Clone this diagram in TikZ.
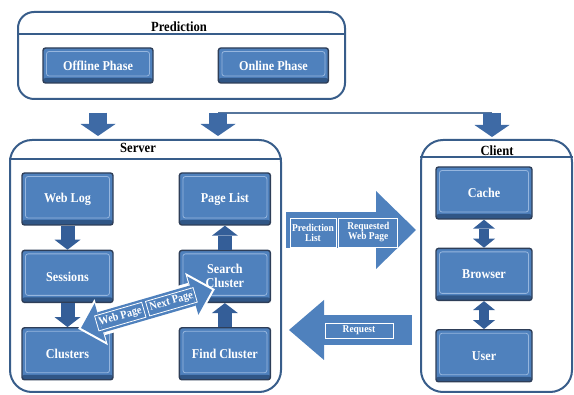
\documentclass[tikz,border=0pt]{standalone}
\usepackage{fontspec}
\setmainfont{Liberation Serif}
\newfontfamily\narrowserif[FakeStretch=0.9]{Liberation Serif}
\usepackage{tikz}
\usetikzlibrary{positioning,calc,arrows.meta}
\definecolor{boxblue}{RGB}{79,129,189}
\definecolor{boxedge}{RGB}{46,62,88}
\definecolor{boxlight}{RGB}{150,182,222}
\definecolor{boxdark}{RGB}{48,86,134}
\definecolor{framecol}{RGB}{56,93,138}
\definecolor{arrowblue}{RGB}{52,94,152}
\definecolor{dropblue}{RGB}{62,106,165}

\begin{document}
\begin{tikzpicture}[
  x=1pt, y=-1pt,
  node distance=24pt,
  frame/.style={rectangle, draw=framecol, line width=2pt, rounded corners=22pt, inner sep=0pt},
  title/.style={inner sep=1pt, font=\narrowserif\bfseries\fontsize{14}{15}\selectfont},
  box/.style={rectangle, fill=boxblue, draw=boxedge, line width=1.4pt, rounded corners=2.5pt,
    minimum width=91pt, minimum height=52pt, inner sep=2pt, align=center, text=white,
    font=\narrowserif\bfseries\fontsize{13.5}{14}\selectfont,
    path picture={
      \fill[boxdark] ([yshift=5pt]path picture bounding box.south west) rectangle (path picture bounding box.south east);
      \draw[boxlight, line width=0.8pt] ([shift={(3.5pt,-3.5pt)}]path picture bounding box.north west) rectangle ([shift={(-3.5pt,7pt)}]path picture bounding box.south east);}},
  tag/.style={draw=white, line width=0.8pt, text=white, inner sep=1.5pt, align=center, font=\narrowserif\bfseries\fontsize{10.5}{10}\selectfont},
  slanttag/.style={tag, sloped, inner sep=2.5pt, font=\narrowserif\bfseries\fontsize{11.5}{12}\selectfont},
  flow/.style={arrowblue, line width=14pt, -{Triangle[width=26pt, length=10pt, line width=0pt]}},
  twoway/.style={arrowblue, line width=10pt, {Triangle[width=22pt, length=9pt, line width=0pt]}-{Triangle[width=22pt, length=9pt, line width=0pt]}},
  drop/.style={dropblue, line width=18pt, -{Triangle[width=35pt, length=12pt, line width=0pt]}},
  link/.style={framecol!85, line width=1.6pt},
  send/.style={boxblue, line width=36pt, -{Triangle[width=78pt, length=40pt, line width=0pt]}},
  back/.style={boxblue, line width=30pt, {Triangle[width=60pt, length=35pt, line width=0pt]}-}
]
\useasboundingbox (0,0) rectangle (574,395);

\node[frame, minimum width=327pt, minimum height=87pt, rounded corners=16pt] (prediction) at (181.5,55.5) {};
\node[frame, minimum width=271pt, minimum height=252pt] (server) at (145.5,266) {};
\node[frame, minimum width=151pt, minimum height=252pt] (client) at (496.5,266) {};
\draw[framecol, line width=1.2pt] ($(prediction.north west)+(0,23)$) -- ($(prediction.north east)+(0,23)$);
\draw[framecol, line width=1.2pt] ($(server.north west)+(0,20)$) -- ($(server.north east)+(0,20)$);
\draw[framecol, line width=1.2pt] ($(client.north west)+(0,18)$) -- ($(client.north east)+(0,18)$);
\node[title] (predtitle) at (179,27) {Prediction};
\node[title] (servertitle) at (138,148) {Server};
\node[title] (clienttitle) at (497,150.5) {Client};

\node[box, minimum width=110pt, minimum height=35pt] (offline) at (98,65.5) {Offline Phase};
\node[box, minimum width=110pt, minimum height=35pt, right=64pt of offline] (online) {Online Phase};

\node[box] (weblog) at (67.5,199) {Web Log};
\node[box, below=of weblog] (sessions) {Sessions};
\node[box, below=of sessions] (clusters) {Clusters};
\node[box, right=65pt of weblog] (pagelist) {Page List};
\node[box, below=of pagelist] (search) {Search\\Cluster};
\node[box, below=of search] (findcl) {Find Cluster};

\node[box, minimum width=96pt] (cache) at (484,193) {Cache};
\node[box, minimum width=96pt, below=28pt of cache] (browser) {Browser};
\node[box, minimum width=96pt, below=28pt of browser] (user) {User};

\coordinate (split) at (218,113);
\coordinate (tocl) at (492,113);
\draw[link] (split) -- (tocl);
\draw[drop, shorten <=29pt, shorten >=3pt] (offline.south) -- (offline.south |- server.north);
\draw[drop, shorten >=3pt] (split) -- (split |- server.north);
\draw[drop, shorten >=2pt] (tocl) -- (tocl |- client.north);

\draw[flow] (weblog) -- (sessions);
\draw[flow] (sessions) -- (clusters);
\draw[flow] (findcl) -- (search);
\draw[flow] (search) -- (pagelist);
\draw[twoway] (cache) -- (browser);
\draw[twoway] (browser) -- (user);

\coordinate (wp) at (81,328);
\coordinate (np) at (212,290);
\draw[white, line width=27pt, {Triangle[width=48pt, length=24pt, line width=0pt]}-{Triangle[width=48pt, length=24pt, line width=0pt]}, shorten <=-3pt, shorten >=-3pt] (wp) -- (np);
\draw[boxblue, line width=21pt, {Triangle[width=40pt, length=20pt, line width=0pt]}-{Triangle[width=40pt, length=20pt, line width=0pt]}] (wp) -- (np)
  node[slanttag, pos=0.3] (webpage) {Web Page}
  node[slanttag, pos=0.69] (nextpage) {Next Page};

\coordinate (sendy) at (0,230);
\coordinate (reqy) at (0,330);
\draw[send, shorten <=4pt, shorten >=4pt] (server.east |- sendy) -- (client.west |- sendy);
\draw[back, shorten <=7pt, shorten >=8pt] (server.east |- reqy) -- (client.west |- reqy);
\node[tag, minimum width=46pt, minimum height=29pt] (predlist) at (313,232.5) {Prediction\\List};
\node[tag, minimum width=59pt, minimum height=29pt, right=2pt of predlist] (reqpage) {Requested\\Web Page};
\node[tag, minimum width=68pt, minimum height=15pt] (reqtag) at (359,330.5) {Request};
\end{tikzpicture}
\end{document}
